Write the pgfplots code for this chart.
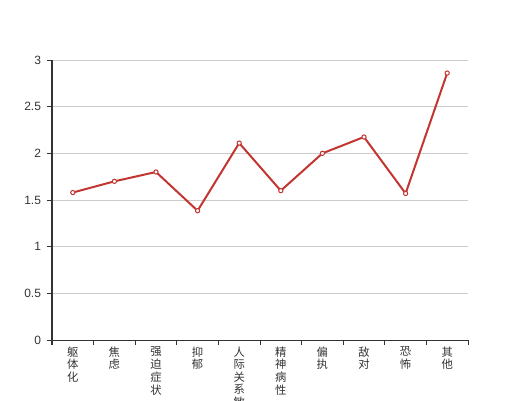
\documentclass[border=0pt]{standalone}
\usepackage{fontspec}
\setmainfont{Liberation Sans}
\newfontfamily\cjk{Noto Sans CJK SC}
\usepackage{pgfplots}
\pgfplotsset{compat=1.18}
\definecolor{ecred}{HTML}{C23531}
\definecolor{axgray}{HTML}{333333}
\definecolor{gridgray}{HTML}{CCCCCC}
\newcommand{\vt}[1]{\cjk\fontsize{8.5pt}{8.25pt}\selectfont\begin{tabular}[t]{@{}c@{}}#1\end{tabular}}
\begin{document}
\begin{tikzpicture}[x=1pt,y=1pt]
\clip (-39pt,-45pt) rectangle (351pt,255pt);
\begin{axis}[
  scale only axis,
  width=312pt, height=210pt,
  at={(0,0)}, anchor=south west,
  xmin=-0.5, xmax=9.5,
  ymin=0, ymax=3,
  ytick={0,0.5,...,3},
  xtick={0,...,9},
  xticklabels={\vt{躯\\体\\化},\vt{焦\\虑},\vt{强\\迫\\症\\状},\vt{抑\\郁},\vt{人\\际\\关\\系\\敏\\感},\vt{精\\神\\病\\性},\vt{偏\\执},\vt{敌\\对},\vt{恐\\怖},\vt{其\\他}},
  xticklabel style={anchor=north, yshift=-1pt, inner sep=0pt, text=axgray},
  minor xtick={-0.5,0.5,...,9.5},
  major x tick style={draw=none},
  minor x tick style={axgray, line width=0.75pt},
  tick align=outside,
  major tick length=3.75pt,
  minor tick length=3.75pt,
  y tick style={axgray, line width=0.75pt},
  axis x line*=bottom,
  axis y line*=left,
  axis line style={axgray, line width=0.75pt, -},
  ymajorgrids,
  grid style={gridgray, line width=0.75pt},
  yticklabel style={font=\fontsize{9pt}{10pt}\selectfont, text=axgray, xshift=-1pt},
  /pgf/number format/assume math mode=true,
  clip=false,
]
\addplot[color=ecred, line width=1.5pt, mark=*, mark size=1.6pt,
  mark options={fill=white, draw=ecred, line width=0.75pt}]
  coordinates {(0,1.58) (1,1.70) (2,1.80) (3,1.385) (4,2.11) (5,1.60) (6,2.00) (7,2.175) (8,1.57) (9,2.86)};
\end{axis}
\end{tikzpicture}
\end{document}
